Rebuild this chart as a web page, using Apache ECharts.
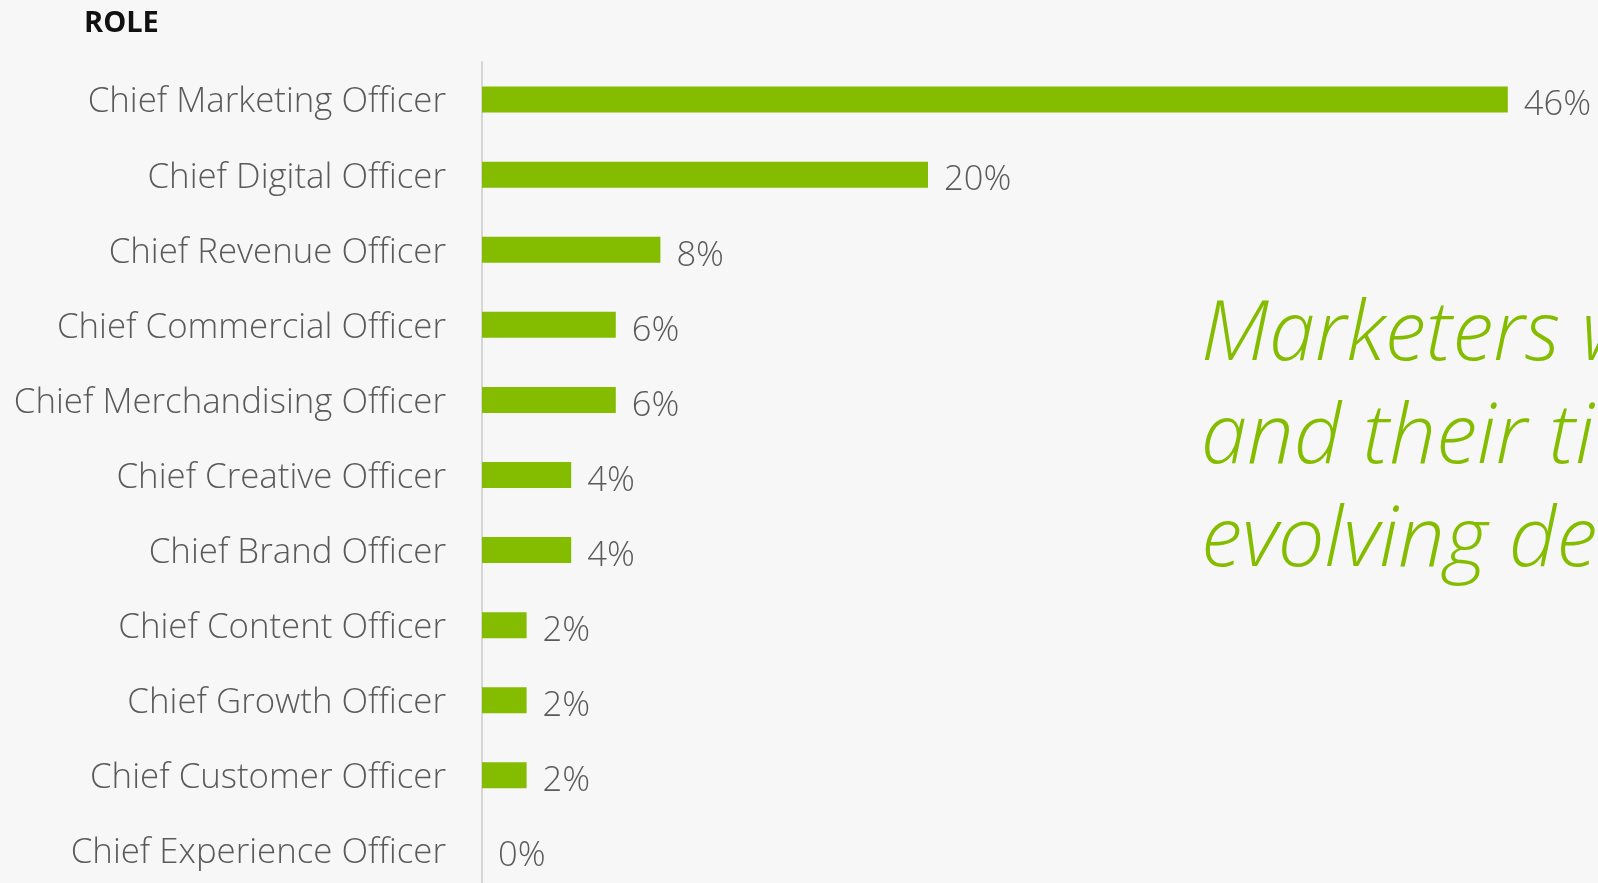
<!DOCTYPE html>
<html>
<head>
<meta charset="utf-8">
<script src="https://cdn.jsdelivr.net/npm/echarts@6/dist/echarts.min.js"></script>
<style>
  html, body { margin: 0; padding: 0; background: #f7f7f7; overflow: hidden; }
  #chart { width: 1598px; height: 900px; }
</style>
</head>
<body>
<div id="chart"></div>
<script>
const roles = [
  "Chief Marketing Officer",
  "Chief Digital Officer",
  "Chief Revenue Officer",
  "Chief Commercial Officer",
  "Chief Merchandising Officer",
  "Chief Creative Officer",
  "Chief Brand Officer",
  "Chief Content Officer",
  "Chief Growth Officer",
  "Chief Customer Officer",
  "Chief Experience Officer"
];
const shares = [46, 20, 8, 6, 6, 4, 4, 2, 2, 2, 0];
const headline = ["Marketers want more,", "and their titles reflect", "evolving demands"];

const green = "#84bd00";
const grey = "#5a5a5a";
const font = "'Open Sans', sans-serif";

const chart = echarts.init(document.getElementById("chart"));
chart.setOption({
  backgroundColor: "#f7f7f7",
  animation: false,
  title: {
    text: "ROLE",
    left: 79,
    top: 4,
    textStyle: { fontFamily: font, fontWeight: "bold", fontSize: 29, color: "#111" }
  },
  // the plot runs a little past the bottom edge of the window
  grid: { left: 482, top: 62, width: 1115, height: 826 },
  xAxis: {
    type: "value",
    min: 0,
    max: 50,
    show: false
  },
  yAxis: {
    type: "category",
    data: roles,
    inverse: true,
    axisLine: { show: true, lineStyle: { color: "#d6d6d6", width: 2 } },
    axisTick: { show: false },
    axisLabel: {
      margin: 36,
      formatter: v => "{a|" + v + "}",
      rich: {
        a: {
          fontFamily: font,
          fontWeight: 300,
          fontSize: 34.8,
          color: grey,
          padding: [6, 0, 0, 0]
        }
      }
    }
  },
  series: [{
    type: "bar",
    data: shares,
    barWidth: 26,
    itemStyle: { color: green },
    label: {
      show: true,
      position: "right",
      distance: 16,
      formatter: "{c}%",
      fontFamily: font,
      fontWeight: 300,
      fontSize: 34.5,
      color: grey,
      offset: [0, 6]
    }
  }],
  graphic: headline.map((line, i) => ({
    type: "text",
    x: 1201,
    y: 336 + i * 103,
    style: {
      text: line,
      font: "italic 300 83px 'Open Sans', sans-serif",
      fill: green,
      verticalAlign: "middle"
    }
  }))
});
</script>
</body>
</html>
